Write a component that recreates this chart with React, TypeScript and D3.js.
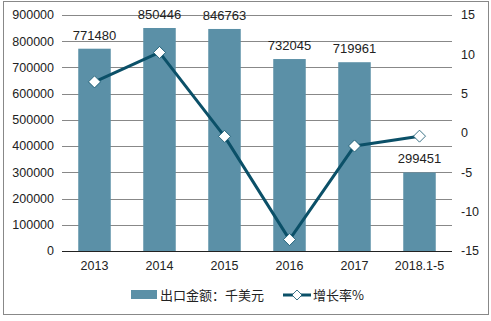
import React from "react";
import * as d3 from "d3";

const categories = ["2013", "2014", "2015", "2016", "2017", "2018.1-5"];
const exportValues = [771480, 850446, 846763, 732045, 719961, 299451];
const growthRates = [6.5, 10.24, -0.43, -13.55, -1.65, -0.4];
const leftTicks = [0, 100000, 200000, 300000, 400000, 500000, 600000, 700000, 800000, 900000];
const rightTicks = [-15, -10, -5, 0, 5, 10, 15];
const barLegend = "出口金额：千美元";
const lineLegend = "增长率%";

const W = 491, H = 321;
const plot = { left: 62, right: 452, top: 15, bottom: 251 };
const BAR = "#5B90A7";
const LINE = "#0B5068";
const TEXT = "#222";
const FONT = "'Liberation Sans', Arial, sans-serif";

export default function App() {
  const x = d3.scaleBand<string>().domain(categories).range([plot.left, plot.right]).paddingInner(0.5).paddingOuter(0.25);
  const yL = d3.scaleLinear().domain([0, 900000]).range([plot.bottom, plot.top]);
  const yR = d3.scaleLinear().domain([-15, 15]).range([plot.bottom, plot.top]);
  const cx = (c: string) => (x(c) as number) + x.bandwidth() / 2;
  const line = d3.line<number>().x((_, i) => cx(categories[i])).y((d) => yR(d));
  const diamond = (px: number, py: number, r: number) =>
    `M${px},${py - r}L${px + r},${py}L${px},${py + r}L${px - r},${py}Z`;

  return (
    <svg width={W} height={H} style={{ position: "absolute", left: 0, top: 0, fontFamily: FONT }}>
      <rect x={0} y={0} width={W} height={H} fill="#fff" />
      <rect x={3.5} y={1.5} width={485} height={313} fill="none" stroke="#888" strokeWidth={1} />
      {leftTicks.map((t) => (
        <g key={t}>
          {t !== 0 && (
            <line x1={plot.left} x2={plot.right} y1={Math.round(yL(t)) + 0.5} y2={Math.round(yL(t)) + 0.5} stroke="#888" strokeWidth={1} />
          )}
          <text x={54} y={yL(t)} dy="0.35em" textAnchor="end" fontSize={12.5} fill={TEXT}>{t}</text>
        </g>
      ))}
      {rightTicks.map((t) => (
        <text key={t} x={461} y={yR(t)} dy="0.35em" textAnchor="start" fontSize={12.5} fill={TEXT}>{t}</text>
      ))}
      {categories.map((c, i) => (
        <g key={c}>
          <rect x={x(c)} y={yL(exportValues[i])} width={x.bandwidth()} height={plot.bottom - yL(exportValues[i])} fill={BAR} />
          <text x={cx(c)} y={yL(exportValues[i]) - 9} textAnchor="middle" fontSize={13} fill={TEXT}>{exportValues[i]}</text>
          <text x={cx(c)} y={270} textAnchor="middle" fontSize={12.5} fill={TEXT}>{c}</text>
        </g>
      ))}
      <line x1={plot.left} x2={plot.right} y1={plot.bottom + 0.5} y2={plot.bottom + 0.5} stroke="#222" strokeWidth={1.2} />
      <path d={line(growthRates) || ""} fill="none" stroke={LINE} strokeWidth={3} strokeLinejoin="round" />
      {growthRates.map((g, i) => (
        <path key={i} d={diamond(cx(categories[i]), yR(g), 6)} fill="#fff" stroke={LINE} strokeWidth={0.8} />
      ))}
      <rect x={131} y={290} width={26} height={9} fill={BAR} />
      <text x={160} y={295} dy="0.35em" fontSize={13} fill={TEXT} fontFamily="'Noto Sans CJK SC', sans-serif">{barLegend}</text>
      <line x1={283} x2={311} y1={295} y2={295} stroke={LINE} strokeWidth={3} />
      <path d={diamond(297, 295, 5)} fill="#fff" stroke={LINE} strokeWidth={0.8} />
      <text x={313} y={295} dy="0.35em" fontSize={13} fill={TEXT} fontFamily="'Noto Sans CJK SC', sans-serif">{lineLegend}</text>
    </svg>
  );
}
